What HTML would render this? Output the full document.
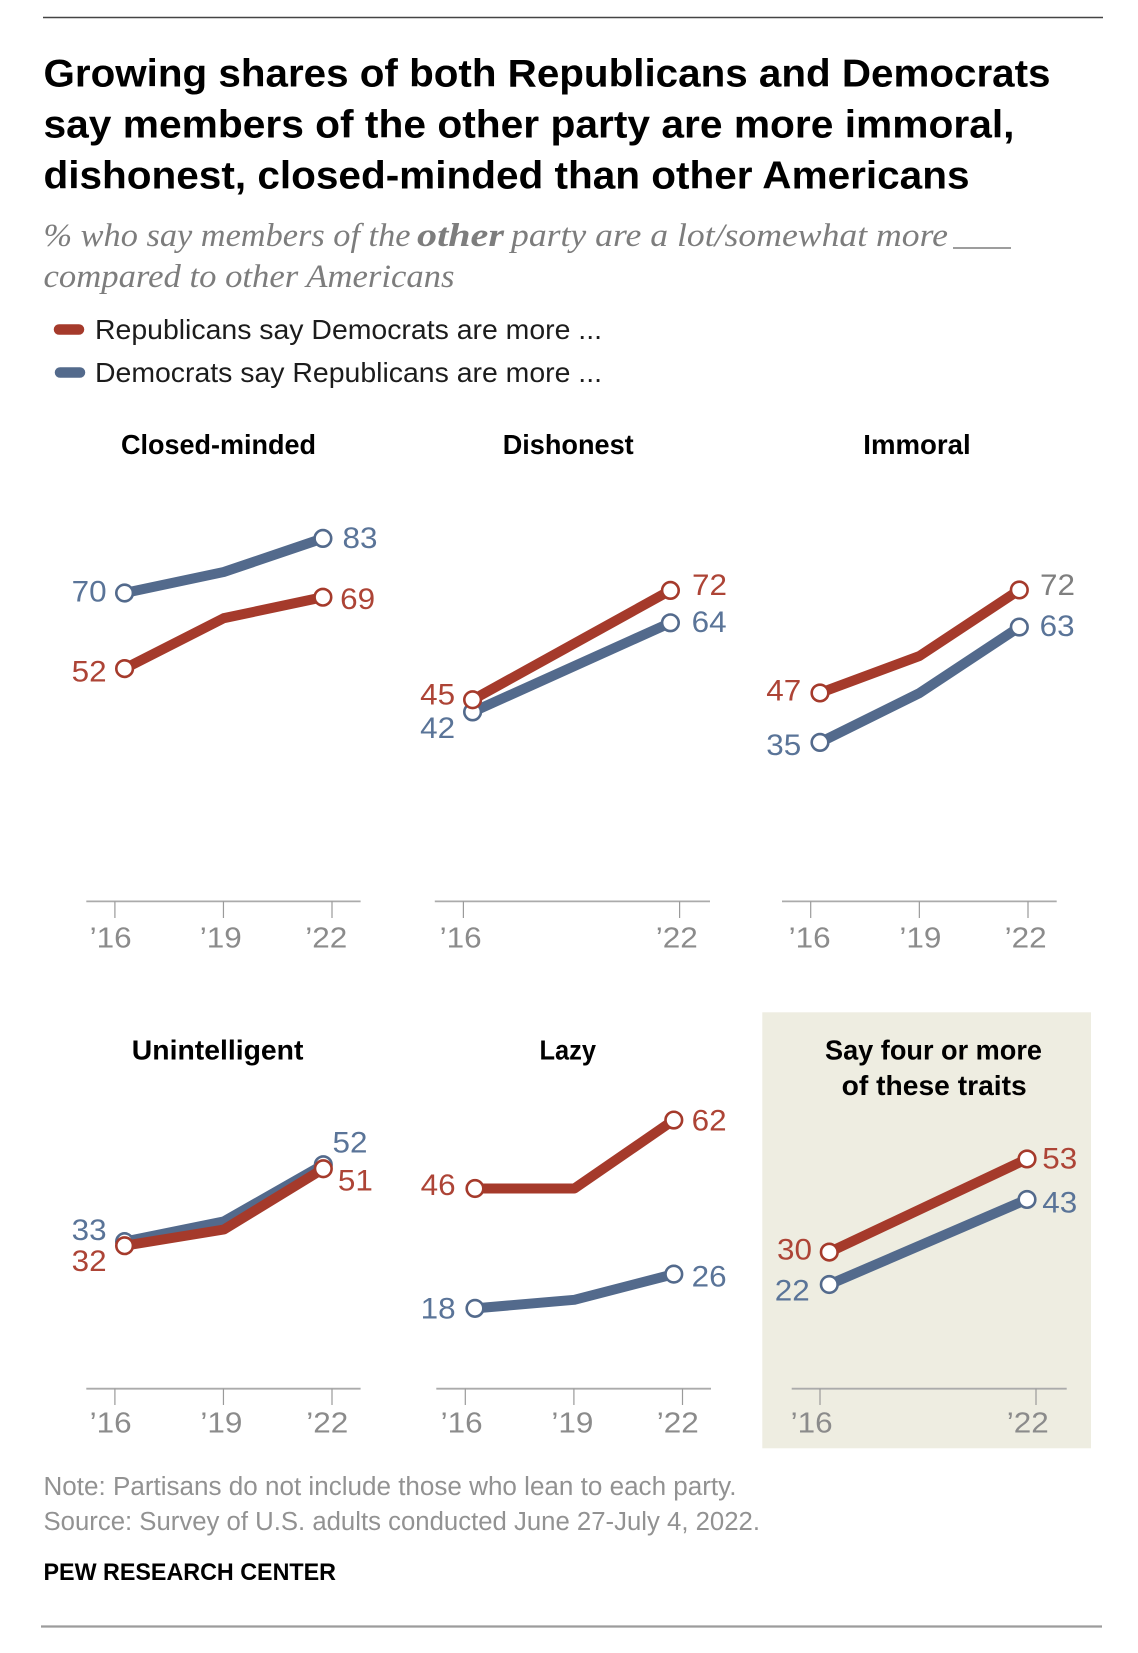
<!DOCTYPE html>
<html lang="en">
<head>
<meta charset="utf-8">
<title>Growing shares of both Republicans and Democrats</title>
<style>
html,body{margin:0;padding:0;background:#fff;width:1138px;height:1653px;overflow:hidden}
svg{display:block}
text{font-family:"Liberation Sans",sans-serif}
.title{font-weight:700;font-size:39px;fill:#000}
.sub{font-family:"Liberation Serif",serif;font-style:italic;font-size:33px;fill:#7d7d7d}
.subb{font-weight:700}
.leg{font-size:28px;fill:#1c1c1c}
.foot{font-size:25.5px;fill:#929292}
.pew{font-size:24.5px;font-weight:700;fill:#000}
.ptitle{font-size:27.5px;font-weight:700;fill:#000;text-anchor:start}
.tick{font-size:29px;fill:#8b8b8b}
.val{font-size:29.5px}
</style>
</head>
<body>
<svg id="chart" xmlns="http://www.w3.org/2000/svg" width="1138" height="1653" viewBox="0 0 1138 1653">
  <rect x="0" y="0" width="1138" height="1653" fill="#fff"/>
  <line x1="43" y1="17.5" x2="1103" y2="17.5" stroke="#444" stroke-width="1.6"/>
  <text class="title" x="43.5" y="86.5" textLength="1007" lengthAdjust="spacingAndGlyphs">Growing shares of both Republicans and Democrats</text>
  <text class="title" x="43.5" y="137.5" textLength="971" lengthAdjust="spacingAndGlyphs">say members of the other party are more immoral,</text>
  <text class="title" x="43.5" y="188.5" textLength="926" lengthAdjust="spacingAndGlyphs">dishonest, closed-minded than other Americans</text>

  <text class="sub" x="43.5" y="246" textLength="367" lengthAdjust="spacingAndGlyphs">% who say members of the</text>
  <text class="sub subb" x="417" y="246" textLength="87" lengthAdjust="spacingAndGlyphs">other</text>
  <text class="sub" x="511" y="246" textLength="437" lengthAdjust="spacingAndGlyphs">party are a lot/somewhat more</text>
  <line x1="953" y1="248" x2="1011" y2="248" stroke="#7d7d7d" stroke-width="1.6"/>
  <text class="sub" x="43.5" y="287" textLength="411" lengthAdjust="spacingAndGlyphs">compared to other Americans</text>

  <g>
    <line x1="59" y1="329.5" x2="79" y2="329.5" stroke="#a53a2b" stroke-width="10.5" stroke-linecap="round"/>
    <text class="leg" x="95" y="339" textLength="507" lengthAdjust="spacingAndGlyphs">Republicans say Democrats are more ...</text>
    <line x1="60" y1="372.5" x2="80" y2="372.5" stroke="#536a8c" stroke-width="10.5" stroke-linecap="round"/>
    <text class="leg" x="95" y="382" textLength="507" lengthAdjust="spacingAndGlyphs">Democrats say Republicans are more ...</text>
  </g>

  <rect x="762.3" y="1012.3" width="328.7" height="436" fill="#eeede1"/>
  <g id="panels"></g>

  <text class="foot" x="43.5" y="1495" textLength="693" lengthAdjust="spacingAndGlyphs">Note: Partisans do not include those who lean to each party.</text>
  <text class="foot" x="43.5" y="1530" textLength="716.5" lengthAdjust="spacingAndGlyphs">Source: Survey of U.S. adults conducted June 27-July 4, 2022.</text>
  <text class="pew" x="43.5" y="1580" textLength="292.5" lengthAdjust="spacingAndGlyphs">PEW RESEARCH CENTER</text>
  <line x1="41" y1="1626.5" x2="1102" y2="1626.5" stroke="#9c9c9c" stroke-width="2.2"/>
</svg>

<script>
// ---- chart data ----
const categoriesThree = ['2016', '2019', '2022'];
const categoriesTwo = ['2016', '2022'];
const tickLabelsThree = ['\u201916', '\u201919', '\u201922'];
const tickLabelsTwo = ['\u201916', '\u201922'];

const closedMindedRep = [52, 64, 69];
const closedMindedDem = [70, 75, 83];
const dishonestRep = [45, 72];
const dishonestDem = [42, 64];
const immoralRep = [47, 56, 72];
const immoralDem = [35, 47, 63];
const unintelligentRep = [32, 36, 51];
const unintelligentDem = [33, 38, 52];
const lazyRep = [46, 46, 62];
const lazyDem = [18, 20, 26];
const fourOrMoreRep = [30, 53];
const fourOrMoreDem = [22, 43];

// ---- panel geometry (layout only; no data values) ----
const SVG_NS = 'http://www.w3.org/2000/svg';
const RED = '#a53a2b';
const BLUE = '#536a8c';
const RED_TEXT = '#ad4436';
const BLUE_TEXT = '#5a7498';
const GREY_TEXT = '#7f7f7f';

const panels = [
  { key: 'closed-minded', cats: categoriesThree, ticks: tickLabelsThree, rep: closedMindedRep, dem: closedMindedDem,
    titles: [{ t: 'Closed-minded', x: 121, w: 195, y: 454 }],
    x0: 124.6, x1: 322.9, yZero: 887, k: 4.2,
    axisL: 86.3, axisR: 360.6, axisY: 901.4, tick0: 114.9, tick1: 332, tickEnd: 918, tickBase: 947.5,
    tickDx: [-4.2, -2.7, -5.7],
    off: { repS: [-18, 12.1], repE: [17.3, 11], demS: [-18, 7.4], demE: [19.6, 8.4] } },
  { key: 'dishonest', cats: categoriesTwo, ticks: tickLabelsTwo, rep: dishonestRep, dem: dishonestDem,
    titles: [{ t: 'Dishonest', x: 502.7, w: 131, y: 454 }],
    x0: 472.6, x1: 670.4, yZero: 882, k: 4.05,
    axisL: 434.8, axisR: 710, axisY: 901.4, tick0: 463.4, tick1: 679.6, tickEnd: 918, tickBase: 947.5,
    tickDx: [-2.7, -2.8],
    off: { repS: [-17.4, 3.9], repE: [21.6, 3.5], demS: [-17.4, 25], demE: [21.3, 8] } },
  { key: 'immoral', cats: categoriesThree, ticks: tickLabelsThree, rep: immoralRep, dem: immoralDem,
    titles: [{ t: 'Immoral', x: 863.3, w: 107.4, y: 454 }],
    x0: 820, x1: 1019.3, yZero: 886.6, k: 4.12,
    axisL: 782, axisR: 1056.7, axisY: 901.4, tick0: 810.7, tick1: 1028, tickEnd: 918, tickBase: 947.5,
    tickDx: [-1.1, 1, -2.3],
    off: { repS: [-18.7, 6.3], repE: [20.7, 4], demS: [-18.7, 11.6], demE: [20.4, 8] }, repEndGrey: true },
  { key: 'unintelligent', cats: categoriesThree, ticks: tickLabelsThree, rep: unintelligentRep, dem: unintelligentDem,
    titles: [{ t: 'Unintelligent', x: 131.8, w: 171.6, y: 1059.3 }],
    x0: 124.6, x1: 323.3, yZero: 1375.3, k: 4.05,
    axisL: 86.3, axisR: 360.6, axisY: 1388.7, tick0: 114.9, tick1: 332, tickEnd: 1405, tickBase: 1432.7,
    tickDx: [-4.2, -2.1, -4.7],
    off: { repS: [-17.9, 24.3], repE: [14.6, 20.5], demS: [-17.9, -2.6], demE: [9.2, -13] } },
  { key: 'lazy', cats: categoriesThree, ticks: tickLabelsThree, rep: lazyRep, dem: lazyDem,
    titles: [{ t: 'Lazy', x: 539.5, w: 56.5, y: 1059.3 }],
    x0: 475, x1: 673.8, yZero: 1385.4, k: 4.28,
    axisL: 436.3, axisR: 711, axisY: 1388.7, tick0: 465.3, tick1: 682.5, tickEnd: 1405, tickBase: 1432.7,
    tickDx: [-3.6, -1.5, -4.7],
    off: { repS: [-19.3, 5.5], repE: [17.9, 9.3], demS: [-19.3, 9.3], demE: [17.9, 11.6] } },
  { key: 'four-or-more', cats: categoriesTwo, ticks: tickLabelsTwo, rep: fourOrMoreRep, dem: fourOrMoreDem,
    titles: [{ t: 'Say four or more', x: 825, w: 217, y: 1059.3 }, { t: 'of these traits', x: 841.7, w: 185, y: 1095 }],
    x0: 829.3, x1: 1027, yZero: 1373.6, k: 4.05,
    axisL: 791.7, axisR: 1066.7, axisY: 1388.7, tick0: 820, tick1: 1036, tickEnd: 1405, tickBase: 1432.7,
    tickDx: [-8.3, -8.2],
    off: { repS: [-17.3, 6.6], repE: [15.3, 8.4], demS: [-19.5, 14.8], demE: [15.3, 12.2] } }
];

const root = document.getElementById('panels');

function make(parent, tag, attrs) {
  const el = document.createElementNS(SVG_NS, tag);
  Object.keys(attrs).forEach(function (a) { el.setAttribute(a, attrs[a]); });
  parent.appendChild(el);
  return el;
}

function xScale(p, i) {
  return p.x0 + (p.x1 - p.x0) * i / (p.cats.length - 1);
}
function yScale(p, v) {
  return p.yZero - p.k * v;
}
function tickX(p, i) {
  return p.tick0 + (p.tick1 - p.tick0) * i / (p.ticks.length - 1);
}

function drawSeries(g, p, values, color, seriesName) {
  const pts = values.map(function (v, i) { return xScale(p, i) + ',' + yScale(p, v); }).join(' ');
  const line = make(g, 'polyline', { points: pts, fill: 'none', stroke: color, 'stroke-width': 10, 'stroke-linejoin': 'round' });
  
  
  [0, values.length - 1].forEach(function (i) {
    const c = make(g, 'circle', { cx: xScale(p, i), cy: yScale(p, values[i]), r: 8.3, fill: '#fff', stroke: color, 'stroke-width': 2.6 });
    
    
  });
}

function drawValue(g, p, values, i, offset, color, anchor, seriesName) {
  const t = make(g, 'text', {
    class: 'val',
    x: xScale(p, i) + offset[0],
    y: yScale(p, values[i]) + offset[1] + 1,
    fill: color,
    'text-anchor': anchor,
    textLength: 35,
    lengthAdjust: 'spacingAndGlyphs'
  });
  t.textContent = String(values[i]);
  
  
}

panels.forEach(function (p) {
  const g = make(root, 'g', {});
  
  

  p.titles.forEach(function (tt) {
    const t = make(g, 'text', { class: 'ptitle', x: tt.x, y: tt.y, textLength: tt.w, lengthAdjust: 'spacingAndGlyphs' });
    t.textContent = tt.t;
    
    
  });

  const axis = make(g, 'line', { x1: p.axisL, x2: p.axisR, y1: p.axisY, y2: p.axisY, stroke: '#ababab', 'stroke-width': 1.8 });
  
  

  p.ticks.forEach(function (lab, i) {
    const tx = tickX(p, i);
    const m = make(g, 'line', { x1: tx, x2: tx, y1: p.axisY, y2: p.tickEnd, stroke: '#9a9a9a', 'stroke-width': 1.2 });
    
    
    const t = make(g, 'text', { class: 'tick', x: tx + p.tickDx[i], y: p.tickBase, 'text-anchor': 'middle', textLength: 42, lengthAdjust: 'spacingAndGlyphs' });
    t.textContent = lab;
    
    
  });

  drawSeries(g, p, p.dem, BLUE, 'democrats');
  drawSeries(g, p, p.rep, RED, 'republicans');

  const last = p.rep.length - 1;
  drawValue(g, p, p.rep, 0, p.off.repS, RED_TEXT, 'end', 'republicans');
  drawValue(g, p, p.rep, last, p.off.repE, p.repEndGrey ? GREY_TEXT : RED_TEXT, 'start', 'republicans');
  drawValue(g, p, p.dem, 0, p.off.demS, BLUE_TEXT, 'end', 'democrats');
  drawValue(g, p, p.dem, last, p.off.demE, BLUE_TEXT, 'start', 'democrats');
});
</script>
</body>
</html>
